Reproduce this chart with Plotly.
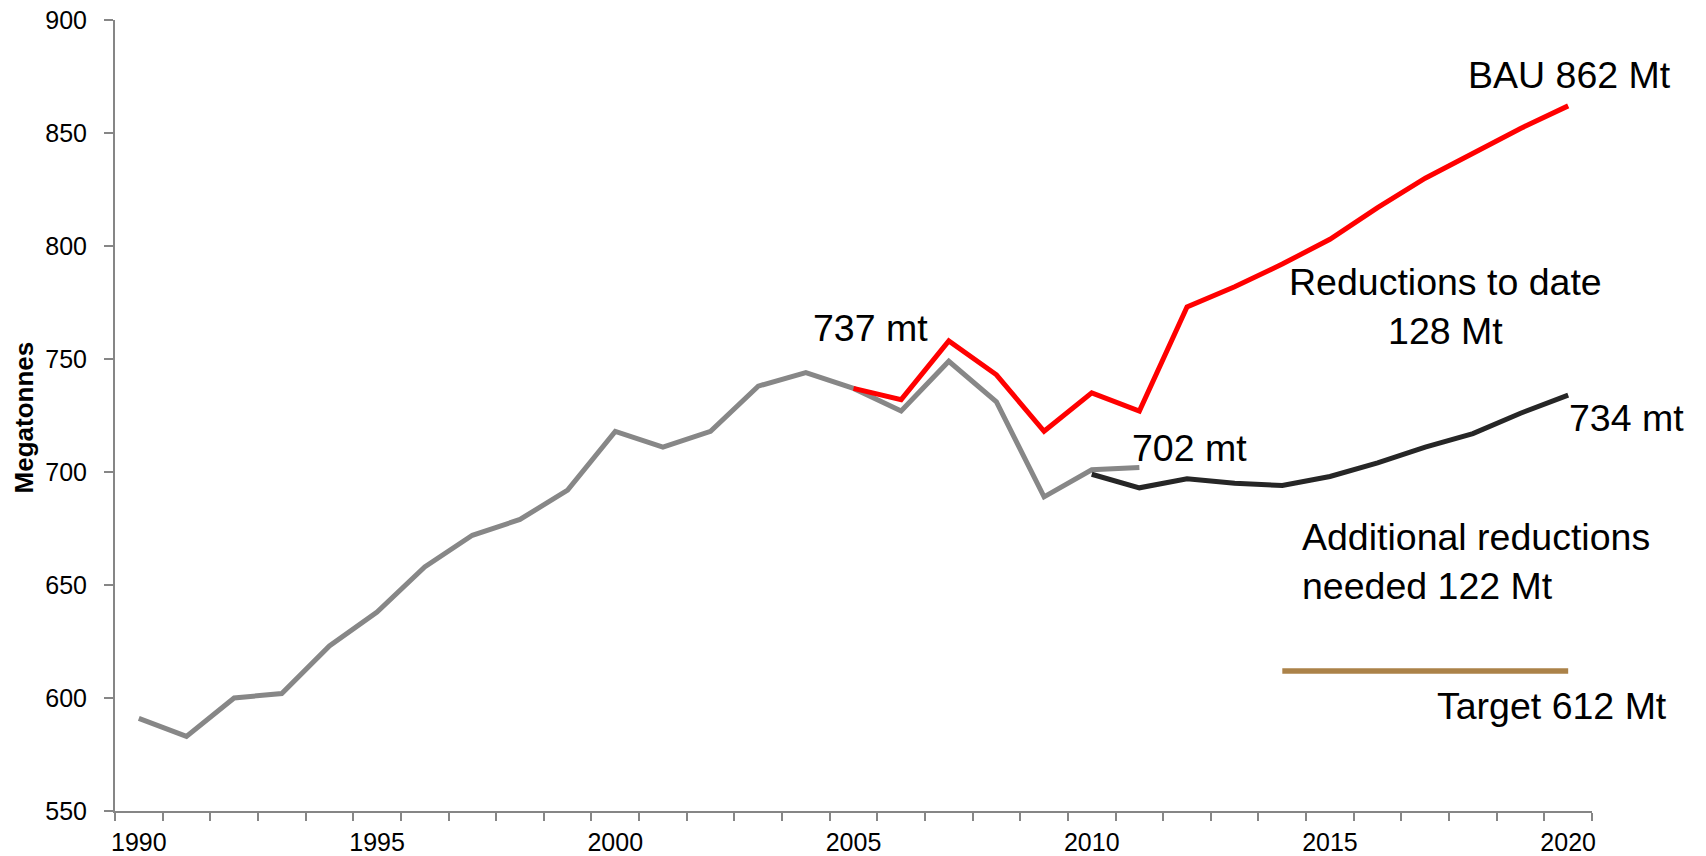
import plotly.graph_objects as go

# ---- data ----
hist_years = list(range(1990, 2012))
hist_values = [591, 583, 600, 602, 623, 638, 658, 672, 679, 692, 718, 711, 718,
               738, 744, 737, 727, 749, 731, 689, 701, 702]

bau_years = list(range(2005, 2021))
bau_values = [737, 732, 758, 743, 718, 735, 727, 773, 782, 792, 803, 817, 830,
              841, 852, 862]

proj_years = list(range(2010, 2021))
proj_values = [699, 693, 697, 695, 694, 698, 704, 711, 717, 726, 734]

target_years = [2014, 2020]
target_values = [612, 612]

x_tick_labels = [1990, 1995, 2000, 2005, 2010, 2015, 2020]

# ---- styles ----
FONT = "Liberation Sans, Arial, sans-serif"
AXIS_COLOR = "#868686"
GRAY = "#878787"
RED = "#FF0000"
DARK = "#262626"
TAN = "#AB8249"
LW = 5

fig = go.Figure()
fig.add_trace(go.Scatter(x=hist_years, y=hist_values, mode="lines",
                         line=dict(color=GRAY, width=LW), name="Historical"))
fig.add_trace(go.Scatter(x=bau_years, y=bau_values, mode="lines",
                         line=dict(color=RED, width=LW), name="BAU"))
fig.add_trace(go.Scatter(x=proj_years, y=proj_values, mode="lines",
                         line=dict(color=DARK, width=LW), name="Projection"))
fig.add_trace(go.Scatter(x=target_years, y=target_values, mode="lines",
                         line=dict(color=TAN, width=5.5), name="Target"))

ann_font = dict(family=FONT, size=37.5, color="black")
annotations = [
    dict(x=2005.36, y=763.8, text="737 mt", xanchor="center", yanchor="middle"),
    dict(x=2012.05, y=710.7, text="702 mt", xanchor="center", yanchor="middle"),
    dict(x=2020.02, y=875.5, text="BAU 862 Mt", xanchor="center", yanchor="middle"),
    dict(x=2017.42, y=773.2, text="Reductions to date<br>128 Mt", xanchor="center",
         yanchor="middle", align="center"),
    dict(x=2019.97, y=723.7, text="734 mt", xanchor="left", yanchor="middle"),
    dict(x=2014.38, y=660.4, text="Additional reductions<br>needed 122 Mt",
         xanchor="left", yanchor="middle", align="left"),
    dict(x=2019.65, y=596.5, text="Target 612 Mt", xanchor="center", yanchor="middle"),
]
for a in annotations:
    a.update(xref="x", yref="y", showarrow=False, font=ann_font)

annotations.append(dict(
    xref="paper", yref="paper", x=-0.0616, y=0.4976, text="<b>Megatonnes</b>",
    textangle=-90, showarrow=False, xanchor="center", yanchor="middle",
    font=dict(family=FONT, size=26, color="black")))

fig.update_layout(
    width=1706, height=856, autosize=False,
    margin=dict(l=115, r=114, t=20, b=45, autoexpand=False),
    plot_bgcolor="white", paper_bgcolor="white",
    showlegend=False,
    font=dict(family=FONT, size=25, color="black"),
    annotations=annotations,
    xaxis=dict(
        range=[1989.5, 2020.5], tickmode="array", tickvals=x_tick_labels,
        ticktext=[str(v) for v in x_tick_labels], ticks="", showgrid=False,
        zeroline=False, showline=True, linecolor=AXIS_COLOR, linewidth=2,
        tickfont=dict(family=FONT, size=25, color="black"),
        ticklabelstandoff=8, automargin=False,
        minor=dict(tick0=1989.5, dtick=1, ticks="outside", ticklen=8,
                   tickcolor=AXIS_COLOR, tickwidth=2, showgrid=False),
    ),
    yaxis=dict(
        range=[550, 900], dtick=50, tick0=550, ticks="outside", ticklen=9,
        tickcolor=AXIS_COLOR, tickwidth=2, showgrid=False, zeroline=False,
        showline=True, linecolor=AXIS_COLOR, linewidth=2,
        tickfont=dict(family=FONT, size=25, color="black"),
        ticklabelstandoff=12, automargin=False,
    ),
)

fig.write_html("out.html", config={"displayModeBar": False},
               post_script="document.body.style.margin='0';document.body.style.overflow='hidden';")
